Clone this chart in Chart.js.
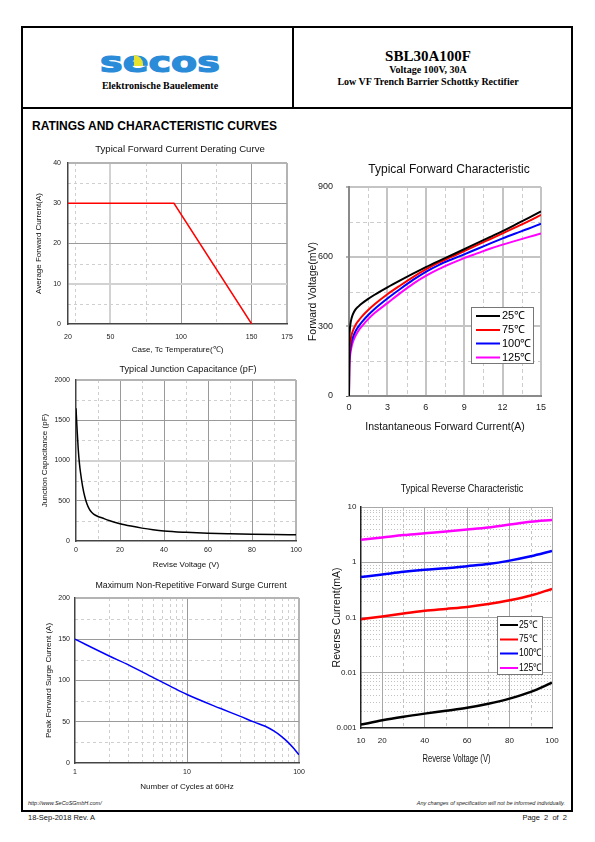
<!DOCTYPE html>
<html><head><meta charset="utf-8">
<script src="https://cdn.jsdelivr.net/npm/chart.js@4.4.1/dist/chart.umd.min.js"></script>
<style>
html,body{margin:0;padding:0;background:#fff;}
#page{position:relative;width:595px;height:842px;overflow:hidden;background:#fff;}
.a{position:absolute;white-space:nowrap;}
canvas{position:absolute;}
.serif{font-family:"Liberation Serif","Times New Roman",serif;font-weight:bold;color:#000;}
.sans{font-family:"Liberation Sans",Arial,sans-serif;color:#000;}
</style></head><body><div id="page">
<div class="a" style="left:21px;top:26px;width:552px;height:786px;border:2px solid #000;box-sizing:border-box;"></div>
<div class="a" style="left:21px;top:107px;width:552px;height:2px;background:#000;"></div>
<div class="a" style="left:292px;top:26px;width:2px;height:82px;background:#000;"></div>

<div class="a" style="left:80px;top:48px;width:160px;text-align:center;font-family:'DejaVu Sans',sans-serif;font-weight:bold;font-size:28px;line-height:30px;color:#2a8bd8;letter-spacing:0px;-webkit-text-stroke:1.2px #2a8bd8;transform:scaleX(1.36);">secos</div>
<div class="a" style="left:134px;top:55px;width:9px;height:11px;background:#e6e22e;border-top-right-radius:9px;"></div>
<div class="a serif" style="left:90px;top:80px;width:140px;text-align:center;font-size:10px;line-height:12px;">Elektronische Bauelemente</div>

<div class="a serif" style="left:294px;top:47px;width:268px;text-align:center;font-size:15px;line-height:18px;">SBL30A100F</div>
<div class="a serif" style="left:294px;top:64px;width:268px;text-align:center;font-size:10px;line-height:12px;">Voltage 100V, 30A</div>
<div class="a serif" style="left:294px;top:76px;width:268px;text-align:center;font-size:10px;line-height:12px;">Low VF Trench Barrier Schottky Rectifier</div>

<div class="a sans" style="left:32px;top:119px;font-size:12px;line-height:14px;font-weight:bold;">RATINGS AND CHARACTERISTIC CURVES</div>

<div class="a sans" style="left:28px;top:800px;font-size:5.5px;line-height:7px;font-style:italic;color:#222;">http://www.SeCoSGmbH.com/</div>
<div class="a sans" style="left:300px;width:265px;text-align:right;top:800px;font-size:5.5px;line-height:7px;font-style:italic;color:#222;">Any changes of specification will not be informed individually.</div>
<div class="a sans" style="left:28px;top:813px;font-size:7.5px;line-height:9px;color:#111;">18-Sep-2018 Rev. A</div>
<div class="a sans" style="left:450px;width:117px;text-align:right;top:813px;font-size:7.5px;line-height:9px;color:#111;">Page&nbsp; 2&nbsp; of&nbsp; 2</div>

<canvas id="c1"></canvas>
<canvas id="c2"></canvas>
<canvas id="c3"></canvas>
<canvas id="c4"></canvas>
<canvas id="c5"></canvas>
</div>
<script>
// ================= DATA =================
// Chart 1: Typical Forward Current Derating Curve
const deratingTemp = [20, 95, 150];
const deratingCurrent = [30, 30, 0];
const deratingXTicks = [20, 50, 100, 150, 175];
const deratingYTicks = [0, 10, 20, 30, 40];
const deratingXMinor = [25, 75, 125];
const deratingYMinor = [5, 15, 25, 35];

// Chart 2: Typical Junction Capacitance (pF)
const capVoltage = [0, 0.5, 1, 1.5, 2, 3, 4, 5, 6, 7, 8, 10, 12, 15, 20, 25, 30, 35, 40, 50, 60, 70, 80, 90, 100];
const capPF = [1650, 1380, 1150, 980, 860, 680, 550, 460, 400, 360, 335, 305, 285, 255, 215, 185, 160, 140, 125, 108, 96, 89, 84, 80, 78];
const capXTicks = [0, 20, 40, 60, 80, 100];
const capYTicks = [0, 500, 1000, 1500, 2000];
const capXMinor = [10, 30, 50, 70, 90];
const capYMinor = [250, 750, 1250, 1750];

// Chart 3: Maximum Non-Repetitive Forward Surge Current
const surgeCycles = [1, 2, 3, 5, 7, 10, 20, 30, 40, 50, 60, 70, 80, 90, 100];
const surgeCurrent = [150, 130, 119, 103.5, 93.5, 83, 66, 56.5, 49.5, 44.5, 38.5, 32, 25, 17.5, 10];
const surgeXTicks = [1, 10, 100];
const surgeYTicks = [0, 50, 100, 150, 200];
const surgeXMinor = [2, 3, 4, 5, 6, 7, 8, 9, 20, 30, 40, 50, 60, 70, 80, 90];
const surgeYMinor = [25, 75, 125, 175];

// Chart 4: Typical Forward Characteristic
const fwdCurrent = [0, 0.02, 0.05, 0.1, 0.2, 0.3, 0.5, 0.75, 1, 1.5, 2, 3, 4, 5, 6, 7, 8, 9, 10, 11, 12, 13, 14, 15];
const fwd25  = [0, 220, 275, 305, 335, 352, 372, 386, 398, 418, 436, 468, 498, 527, 555, 581, 606, 632, 658, 684, 710, 738, 766, 795];
const fwd75  = [0, 160, 200, 230, 262, 280, 305, 325, 342, 370, 395, 438, 476, 512, 545, 574, 599, 624, 650, 675, 700, 726, 752, 780];
const fwd100 = [0, 130, 170, 200, 232, 252, 278, 300, 318, 349, 375, 420, 461, 500, 535, 564, 588, 610, 633, 656, 679, 700, 720, 742];
const fwd125 = [0, 100, 150, 180, 212, 232, 258, 282, 300, 331, 357, 400, 443, 483, 517, 546, 571, 594, 614, 634, 652, 668, 684, 700];
const tempLabels = ['25℃', '75℃', '100℃', '125℃'];
const fwdXTicks = [0, 3, 6, 9, 12, 15];
const fwdYTicks = [0, 300, 600, 900];
const fwdXMinor = [1.5, 4.5, 7.5, 10.5, 13.5];
const fwdYMinor = [150, 450, 750];

// Chart 5: Typical Reverse Characteristic
const revVoltage = [10, 20, 30, 40, 50, 60, 70, 80, 90, 100];
const rev25  = [0.00115, 0.00138, 0.0016, 0.00182, 0.00205, 0.00232, 0.00275, 0.0034, 0.0045, 0.0066];
const rev75  = [0.093, 0.104, 0.118, 0.132, 0.143, 0.155, 0.175, 0.205, 0.25, 0.33];
const rev100 = [0.54, 0.6, 0.67, 0.73, 0.78, 0.85, 0.93, 1.07, 1.28, 1.6];
const rev125 = [2.55, 2.8, 3.1, 3.35, 3.6, 3.9, 4.25, 4.8, 5.4, 5.8];
const revXTicks = [10, 20, 40, 60, 80, 100];
const revYTicks = [0.001, 0.01, 0.1, 1, 10];
const revXMinor = [30, 50, 70, 90];
const revYMinor = [0.002,0.003,0.004,0.005,0.006,0.007,0.008,0.009,
                   0.02,0.03,0.04,0.05,0.06,0.07,0.08,0.09,
                   0.2,0.3,0.4,0.5,0.6,0.7,0.8,0.9,
                   2,3,4,5,6,7,8,9];

const seriesColors = ['#000000', '#ff0000', '#0000ff', '#ff00ff'];

// ================= HELPERS =================
Chart.defaults.animation = false;
Chart.defaults.font.family = '"Liberation Sans", Arial, sans-serif';
Chart.defaults.color = '#222';

const SANS = '"Liberation Sans", Arial, sans-serif';

const xy = (xs, ys) => xs.map((v, i) => ({x: v, y: ys[i]}));

const minorGrid = {
  id: 'minorGrid',
  beforeDraw(chart, args, o) {
    if (!o) return;
    const {ctx, chartArea: a} = chart;
    const xs = chart.scales.x, ys = chart.scales.y;
    ctx.save();
    ctx.lineWidth = o.width || 1;
    ctx.strokeStyle = o.color || '#ccc';
    (o.x || []).forEach(v => {
      const p = Math.round(xs.getPixelForValue(v)) + 0.5;
      ctx.setLineDash(o.xDash || [3, 3]);
      ctx.beginPath(); ctx.moveTo(p, a.top); ctx.lineTo(p, a.bottom); ctx.stroke();
    });
    (o.y || []).forEach(v => {
      const p = Math.round(ys.getPixelForValue(v)) + 0.5;
      ctx.setLineDash(o.yDash || [3, 3]);
      ctx.beginPath(); ctx.moveTo(a.left, p); ctx.lineTo(a.right, p); ctx.stroke();
    });
    ctx.restore();
  }
};

const boxLegend = {
  id: 'boxLegend',
  afterDatasetsDraw(chart, args, o) {
    if (!o || !o.rows) return;
    const ctx = chart.ctx, ox = o.ox, oy = o.oy;
    ctx.save();
    ctx.fillStyle = '#fff';
    ctx.fillRect(o.x1 - ox, o.y1 - oy, o.x2 - o.x1, o.y2 - o.y1);
    ctx.strokeStyle = o.border; ctx.lineWidth = 1;
    ctx.strokeRect(Math.round(o.x1 - ox) + 0.5, Math.round(o.y1 - oy) + 0.5, Math.round(o.x2 - o.x1), Math.round(o.y2 - o.y1));
    ctx.font = o.font; ctx.textBaseline = 'middle'; ctx.textAlign = 'left';
    chart.data.datasets.forEach((d, i) => {
      const y = o.rows[i] - oy;
      ctx.strokeStyle = d.borderColor; ctx.lineWidth = o.lw;
      ctx.beginPath(); ctx.moveTo(o.lx1 - ox, y); ctx.lineTo(o.lx2 - ox, y); ctx.stroke();
      ctx.fillStyle = '#000';
      ctx.save();
      ctx.translate(o.tx - ox, y);
      ctx.scale(o.sx || 1, 1);
      ctx.fillText(d.label, 0, 0);
      ctx.restore();
    });
    ctx.restore();
  }
};

// Narrow (horizontally condensed) texts, used where the reference uses a condensed face
const squeezeText = {
  id: 'squeezeText',
  afterDraw(chart, args, o) {
    if (!o || !o.items) return;
    const ctx = chart.ctx;
    o.items.forEach(it => {
      ctx.save();
      ctx.translate(it.x - o.ox, it.y - o.oy);
      ctx.scale(it.sx, 1);
      ctx.font = it.font; ctx.fillStyle = it.color || '#111';
      ctx.textAlign = 'center'; ctx.textBaseline = 'middle';
      ctx.fillText(it.text, 0, 0);
      ctx.restore();
    });
  }
};

function geom(g) {
  const L = Math.floor(g.ytx - g.yfs * 0.6);
  const T = Math.floor(g.ty - g.tfs * 0.6);
  const W = Math.round(2 * (g.cx - L));
  const H = Math.ceil(g.xty + g.xfs * 0.6) - T;
  return {
    L, T, W, H,
    yw: g.pl - L,
    xh: T + H - g.pb,
    rw: L + W - g.pr,
    tpt: g.ty - g.tfs * 0.6 - T,
    tpb: g.pt - (g.ty + g.tfs * 0.6),
    ytp: g.ytx - g.yfs * 0.6 - L,
    xtp: T + H - g.xfs * 0.6 - g.xty,
    ytick: g.pl - g.ylabR - (g.yTickLen || 0),
    xtick: g.xly - g.pb - g.tickFs * 0.6
  };
}

function gridFn(map, defColor, defWidth) {
  return {
    color: c => (c.tick && map[c.tick.value]) ? map[c.tick.value][0] : defColor,
    lineWidth: c => (c.tick && map[c.tick.value]) ? map[c.tick.value][1] : defWidth
  };
}

function makeChart(id, g, s) {
  const G = geom(g);
  const cv = document.getElementById(id);
  cv.width = G.W; cv.height = G.H;
  cv.style.left = G.L + 'px'; cv.style.top = G.T + 'px';
  cv.style.width = G.W + 'px'; cv.style.height = G.H + 'px';
  const xg = gridFn(s.xGrid || {}, s.gridColor, s.gridWidth);
  const yg = gridFn(s.yGrid || {}, s.gridColor, s.gridWidth);
  const tickFont = {size: g.tickFs, family: SANS};
  const plugins = [minorGrid];
  if (s.legend) plugins.push(boxLegend);
  const sq = !!s.squeeze;
  if (sq) plugins.push(squeezeText);
  const legendOpts = s.legend ? Object.assign({ox: G.L, oy: G.T}, s.legend) : {};
  const sqOpts = sq ? {ox: G.L, oy: G.T, items: [
    {text: s.title, x: g.cx, y: g.ty, sx: s.squeeze.title, font: g.tfs + 'px ' + SANS},
    {text: s.xTitle, x: (g.pl + g.pr) / 2, y: g.xty, sx: s.squeeze.xTitle, font: g.xfs + 'px ' + SANS}
  ]} : {};
  const yTickLen = g.yTickLen || 0;
  return new Chart(cv, {
    type: 'line',
    data: {datasets: s.datasets},
    plugins,
    options: {
      responsive: false,
      devicePixelRatio: 1,
      animation: false,
      layout: {padding: sq ? {top: g.pt - G.T, left: 0, right: 0, bottom: 0} : 0},
      elements: {point: {radius: 0}},
      scales: {
        x: {
          type: s.xType || 'linear', position: 'bottom', min: s.xMin, max: s.xMax,
          afterBuildTicks: sc => { sc.ticks = s.xTicks.map(v => ({value: v})); },
          afterFit: sc => { sc.height = G.xh; sc.paddingLeft = 0; sc.paddingRight = 0; },
          ticks: {autoSkip: false, maxRotation: 0, padding: G.xtick, font: tickFont, color: '#222',
                  callback: v => String(v)},
          grid: {drawTicks: false, color: xg.color, lineWidth: xg.lineWidth},
          border: {display: true, color: s.axisColor, width: s.axisWidth},
          title: {display: !sq, text: s.xTitle, color: '#111', font: {size: g.xfs, family: SANS},
                  padding: {top: 0, bottom: G.xtp}}
        },
        y: {
          type: s.yType || 'linear', position: 'left', min: s.yMin, max: s.yMax,
          afterBuildTicks: sc => { sc.ticks = s.yTicks.map(v => ({value: v})); },
          afterFit: sc => { sc.width = G.yw; sc.paddingTop = 0; sc.paddingBottom = 0; },
          ticks: {autoSkip: false, padding: G.ytick, font: tickFont, color: '#222',
                  callback: v => String(v)},
          grid: {drawTicks: yTickLen > 0, tickLength: yTickLen, tickColor: '#666', tickWidth: 1,
                 color: yg.color, lineWidth: yg.lineWidth},
          border: {display: true, color: s.axisColor, width: s.axisWidth},
          title: {display: true, text: s.yTitle, color: '#111', font: {size: g.yfs, family: SANS},
                  padding: {top: G.ytp, bottom: 0}}
        },
        yR: {
          type: 'linear', position: 'right', display: true,
          afterFit: sc => { sc.width = G.rw; },
          ticks: {display: false}, grid: {display: false}, border: {display: false}
        }
      },
      plugins: {
        legend: {display: false},
        tooltip: {enabled: false},
        title: {display: !sq, text: s.title, color: '#111',
                font: {size: g.tfs, family: SANS, weight: 'normal'},
                padding: {top: G.tpt, bottom: G.tpb}},
        minorGrid: s.minor,
        boxLegend: legendOpts,
        squeezeText: sqOpts
      }
    }
  });
}

// ================= CHARTS =================
makeChart('c1',
  {cx: 180, ty: 149.3, tfs: 9.6, pl: 68, pt: 163, pr: 287, pb: 324, ytx: 38.5, yfs: 8, xty: 350, xfs: 8, ylabR: 61, xly: 336.7, tickFs: 7},
  {
    title: 'Typical Forward Current Derating Curve',
    xTitle: 'Case, Tc Temperature(℃)', yTitle: 'Average Forward Current(A)',
    xMin: 20, xMax: 175, yMin: 0, yMax: 40, xTicks: deratingXTicks, yTicks: deratingYTicks,
    gridColor: '#9a9a9a', gridWidth: 1,
    xGrid: {20: ['rgba(0,0,0,0)', 1], 50: ['#d2d2d2', 2], 175: ['#b4b4b4', 2]},
    yGrid: {0: ['rgba(0,0,0,0)', 1], 10: ['#d2d2d2', 2], 40: ['#b4b4b4', 2]},
    axisColor: '#444', axisWidth: 1.5,
    minor: {x: deratingXMinor, y: deratingYMinor, color: '#cfcfcf', xDash: [3, 3], yDash: [3, 3]},
    datasets: [{data: xy(deratingTemp, deratingCurrent), borderColor: '#ff0000', borderWidth: 1.5, tension: 0}]
  });

makeChart('c2',
  {cx: 188, ty: 369, tfs: 9.1, pl: 76, pt: 380, pr: 296, pb: 541, ytx: 45, yfs: 8, xty: 565, xfs: 8, ylabR: 70, xly: 550.5, tickFs: 7},
  {
    title: 'Typical Junction Capacitance (pF)',
    xTitle: 'Revise Voltage (V)', yTitle: 'Junction Capacitance (pF)',
    xMin: 0, xMax: 100, yMin: 0, yMax: 2000, xTicks: capXTicks, yTicks: capYTicks,
    gridColor: '#9a9a9a', gridWidth: 1,
    xGrid: {0: ['rgba(0,0,0,0)', 1], 100: ['#b4b4b4', 2]},
    yGrid: {0: ['rgba(0,0,0,0)', 1], 1000: ['#d2d2d2', 2], 2000: ['#b4b4b4', 2]},
    axisColor: '#444', axisWidth: 1.5,
    minor: {x: capXMinor, y: capYMinor, color: '#cfcfcf', xDash: [3, 3], yDash: [3, 3]},
    datasets: [{data: xy(capVoltage, capPF), borderColor: '#000', borderWidth: 1.5, cubicInterpolationMode: 'monotone'}]
  });

makeChart('c3',
  {cx: 191, ty: 586, tfs: 8.8, pl: 75, pt: 598, pr: 299, pb: 763, ytx: 49, yfs: 8, xty: 787, xfs: 8, ylabR: 70, xly: 772, tickFs: 7},
  {
    title: 'Maximum Non-Repetitive Forward Surge Current',
    xTitle: 'Number of Cycles at 60Hz', yTitle: 'Peak Forward Surge Current (A)',
    xType: 'logarithmic', xMin: 1, xMax: 100, yMin: 0, yMax: 200, xTicks: surgeXTicks, yTicks: surgeYTicks,
    gridColor: '#9a9a9a', gridWidth: 1,
    xGrid: {1: ['rgba(0,0,0,0)', 1], 100: ['#b4b4b4', 2]},
    yGrid: {0: ['rgba(0,0,0,0)', 1], 200: ['#b4b4b4', 2]},
    axisColor: '#444', axisWidth: 1.5,
    minor: {x: surgeXMinor, y: surgeYMinor, color: '#cfcfcf', xDash: [3, 3], yDash: [3, 3]},
    datasets: [{data: xy(surgeCycles, surgeCurrent), borderColor: '#0000ff', borderWidth: 1.5, cubicInterpolationMode: 'monotone'}]
  });

makeChart('c4',
  {cx: 449, ty: 170, tfs: 12, pl: 349, pt: 187, pr: 541, pb: 396, ytx: 313, yfs: 10.5, xty: 427, xfs: 10.5, ylabR: 333, xly: 407.5, tickFs: 9, yTickLen: 3},
  {
    title: 'Typical Forward Characteristic',
    xTitle: 'Instantaneous Forward Current(A)', yTitle: 'Forward Voltage(mV)',
    xMin: 0, xMax: 15, yMin: 0, yMax: 900, xTicks: fwdXTicks, yTicks: fwdYTicks,
    gridColor: '#c4c4c4', gridWidth: 2,
    xGrid: {0: ['rgba(0,0,0,0)', 1]},
    yGrid: {0: ['rgba(0,0,0,0)', 1]},
    axisColor: '#8a8a8a', axisWidth: 2,
    minor: {x: fwdXMinor, y: fwdYMinor, color: '#cdcdcd', xDash: [4, 3], yDash: [4, 3]},
    legend: {x1: 471, y1: 307, x2: 533, y2: 363, rows: [316, 330, 343.5, 357.5], lx1: 476, lx2: 500, tx: 502,
             font: '11px ' + SANS, lw: 2, border: '#777', sx: 1},
    datasets: [
      {label: tempLabels[0], data: xy(fwdCurrent, fwd25), borderColor: seriesColors[0], borderWidth: 2, cubicInterpolationMode: 'monotone'},
      {label: tempLabels[1], data: xy(fwdCurrent, fwd75), borderColor: seriesColors[1], borderWidth: 2, cubicInterpolationMode: 'monotone'},
      {label: tempLabels[2], data: xy(fwdCurrent, fwd100), borderColor: seriesColors[2], borderWidth: 2, cubicInterpolationMode: 'monotone'},
      {label: tempLabels[3], data: xy(fwdCurrent, fwd125), borderColor: seriesColors[3], borderWidth: 2, cubicInterpolationMode: 'monotone'}
    ]
  });

makeChart('c5',
  {cx: 462, ty: 489, tfs: 11.5, pl: 361, pt: 507, pr: 552, pb: 728, ytx: 337, yfs: 10.5, xty: 759, xfs: 10, ylabR: 356.5, xly: 741, tickFs: 8},
  {
    title: 'Typical Reverse Characteristic',
    squeeze: {title: 0.79, xTitle: 0.76},
    xTitle: 'Reverse Voltage (V)', yTitle: 'Reverse Current(mA)',
    xMin: 10, xMax: 100, yType: 'logarithmic', yMin: 0.001, yMax: 10, xTicks: revXTicks, yTicks: revYTicks,
    gridColor: '#a8a8a8', gridWidth: 1,
    xGrid: {10: ['rgba(0,0,0,0)', 1]},
    yGrid: {0.001: ['rgba(0,0,0,0)', 1]},
    axisColor: '#222', axisWidth: 1.5,
    minor: {x: revXMinor, y: revYMinor, color: '#c2c2c2', xDash: [3, 3], yDash: [1, 2]},
    legend: {x1: 497, y1: 616, x2: 542, y2: 674, rows: [625, 639.5, 653.5, 668], lx1: 500, lx2: 518, tx: 519,
             font: '10.5px ' + SANS, lw: 2, border: '#777', sx: 0.82},
    datasets: [
      {label: tempLabels[0], data: xy(revVoltage, rev25), borderColor: seriesColors[0], borderWidth: 2.5, cubicInterpolationMode: 'monotone'},
      {label: tempLabels[1], data: xy(revVoltage, rev75), borderColor: seriesColors[1], borderWidth: 2.5, cubicInterpolationMode: 'monotone'},
      {label: tempLabels[2], data: xy(revVoltage, rev100), borderColor: seriesColors[2], borderWidth: 2.5, cubicInterpolationMode: 'monotone'},
      {label: tempLabels[3], data: xy(revVoltage, rev125), borderColor: seriesColors[3], borderWidth: 2.5, cubicInterpolationMode: 'monotone'}
    ]
  });
</script>
</body></html>
